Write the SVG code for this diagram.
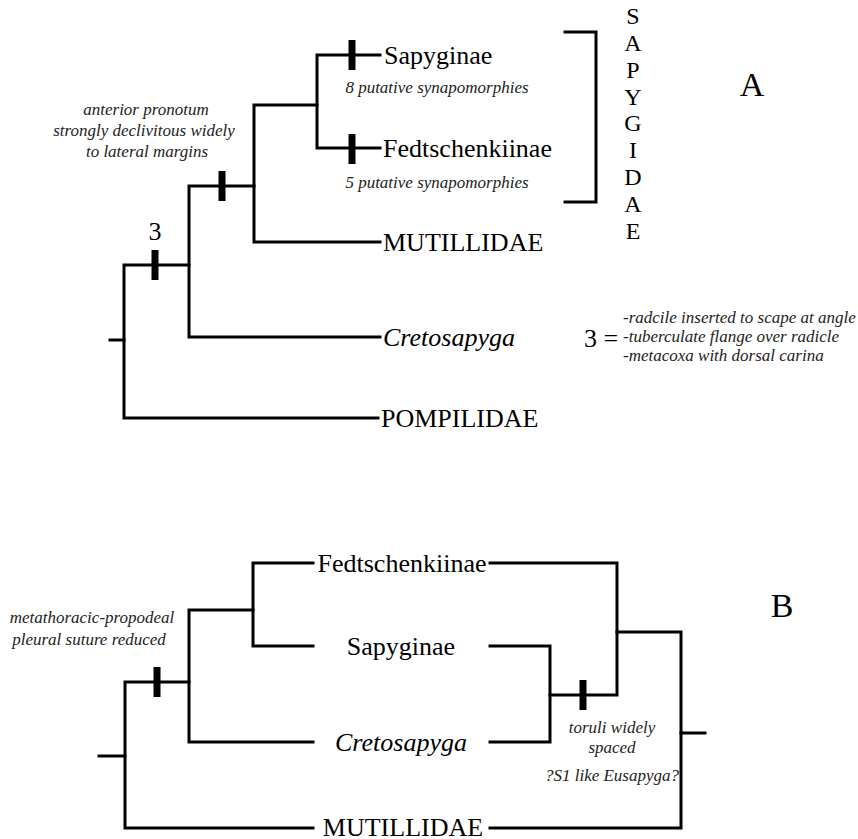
<svg xmlns="http://www.w3.org/2000/svg" width="858" height="839" viewBox="0 0 858 839">
<style>
.ln{fill:none;stroke:#000;stroke-width:3;stroke-linecap:square}
.tk{stroke:#000;stroke-width:7;fill:none}
.lbl{font-family:"Liberation Serif","Times New Roman",serif;font-size:26px;fill:#000}
.it{font-family:"Liberation Serif","Times New Roman",serif;font-style:italic;font-size:17px;fill:#222}
.big{font-family:"Liberation Serif","Times New Roman",serif;font-size:34px;fill:#000}
.ltr{font-family:"Liberation Serif","Times New Roman",serif;font-size:24px;fill:#000;text-anchor:middle}
</style>
<rect width="858" height="839" fill="#fff"/>
<g id="connectors">
<path class="ln" d="M380,55 H317 V148 H380"/>
<path class="ln" d="M317,105 H254 V242 H380"/>
<path class="ln" d="M254,186 H189 V337 H380"/>
<path class="ln" d="M189,265 H124 V418 H378"/>
<path class="ln" d="M110,340 H124"/>
<path class="ln" d="M565,32 H596 V202 H565"/>
<line class="tk" x1="352" y1="40" x2="352" y2="70"/>
<line class="tk" x1="352" y1="134" x2="352" y2="164"/>
<line class="tk" x1="222" y1="171" x2="222" y2="201"/>
<line class="tk" x1="155" y1="250" x2="155" y2="280"/>
<path class="ln" d="M313,563 H253 V646 H313"/>
<path class="ln" d="M253,610 H189 V742 H313"/>
<path class="ln" d="M189,682 H125 V828 H313"/>
<path class="ln" d="M99,756 H125"/>
<path class="ln" d="M490,563 H617 V695 H550"/>
<path class="ln" d="M490,646 H550 V742 H490"/>
<path class="ln" d="M617,632 H681 V828 H490"/>
<path class="ln" d="M681,733 H705"/>
<line class="tk" x1="157" y1="667" x2="157" y2="697"/>
<line class="tk" x1="583" y1="680" x2="583" y2="710"/>
</g>
<g id="nodeA-sapyginae"><text class="lbl" x="384" y="64">Sapyginae</text><text class="it" x="437" y="93" text-anchor="middle">8 putative synapomorphies</text></g>
<g id="nodeA-fedtschenkiinae"><text class="lbl" x="383" y="157">Fedtschenkiinae</text><text class="it" x="437" y="188" text-anchor="middle">5 putative synapomorphies</text></g>
<g id="nodeA-mutillidae"><text class="lbl" x="383" y="251">MUTILLIDAE</text></g>
<g id="nodeA-cretosapyga"><text class="lbl" x="383" y="346" font-style="italic">Cretosapyga</text></g>
<g id="nodeA-pompilidae"><text class="lbl" x="381" y="427">POMPILIDAE</text></g>
<g id="noteA-pronotum"><text class="it" text-anchor="middle" x="146" y="115">anterior pronotum</text><text class="it" text-anchor="middle" x="144" y="136">strongly declivitous widely</text><text class="it" text-anchor="middle" x="147" y="157">to lateral margins</text></g>
<g id="noteA-3"><text class="lbl" x="155" y="240" text-anchor="middle" font-size="24">3</text></g>
<g id="sapygidae">
<text class="ltr" x="633" y="24">S</text><text class="ltr" x="633" y="51">A</text><text class="ltr" x="633" y="78">P</text><text class="ltr" x="633" y="105">Y</text><text class="ltr" x="633" y="131">G</text><text class="ltr" x="633" y="158">I</text><text class="ltr" x="633" y="185">D</text><text class="ltr" x="633" y="212">A</text><text class="ltr" x="633" y="239">E</text>
</g>
<g id="labelA"><text class="big" x="752" y="96" text-anchor="middle">A</text></g>
<g id="legend3"><text class="lbl" x="584" y="347" font-size="20">3 =</text><text class="it" x="623" y="323">-radcile inserted to scape at angle</text><text class="it" x="623" y="342">-tuberculate flange over radicle</text><text class="it" x="623" y="361">-metacoxa with dorsal carina</text></g>
<g id="nodeB-fedtschenkiinae"><text class="lbl" x="402" y="572" text-anchor="middle">Fedtschenkiinae</text></g>
<g id="nodeB-sapyginae"><text class="lbl" x="401" y="655" text-anchor="middle">Sapyginae</text></g>
<g id="nodeB-cretosapyga"><text class="lbl" x="401" y="751" text-anchor="middle" font-style="italic">Cretosapyga</text></g>
<g id="nodeB-mutillidae"><text class="lbl" x="403" y="836" text-anchor="middle">MUTILLIDAE</text></g>
<g id="noteB-suture"><text class="it" text-anchor="middle" x="92" y="623">metathoracic-propodeal</text><text class="it" text-anchor="middle" x="89" y="645">pleural suture reduced</text></g>
<g id="noteB-toruli"><text class="it" text-anchor="middle" x="612" y="733">toruli widely</text><text class="it" text-anchor="middle" x="612" y="753">spaced</text><text class="it" text-anchor="middle" x="612" y="781">?S1 like Eusapyga?</text></g>
<g id="labelB"><text class="big" x="782" y="617" text-anchor="middle">B</text></g>
</svg>
